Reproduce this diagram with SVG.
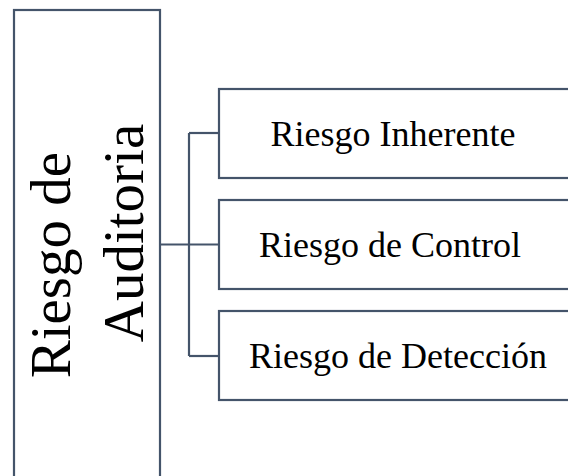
<svg xmlns="http://www.w3.org/2000/svg" width="568" height="476" viewBox="0 0 568 476">
  <style>
    .box { fill: #ffffff; stroke: #44546A; stroke-width: 2.2; }
    .conn { fill: none; stroke: #44546A; stroke-width: 2.2; }
    .lbl { font-family: "Liberation Serif", "Times New Roman", serif; fill: #000000; text-anchor: middle; }
  </style>
  <rect width="568" height="476" fill="#ffffff"/>
  <g id="connectors">
    <path class="conn" d="M160 244.5 H219"/>
    <path class="conn" d="M189 133 V356"/>
    <path class="conn" d="M189 133 H219"/>
    <path class="conn" d="M189 356 H219"/>
  </g>
  <g id="riesgo-auditoria">
    <rect class="box" x="14" y="10" width="146" height="480"/>
    <text class="lbl" font-size="57" transform="rotate(-90)">
      <tspan x="-258" y="70">Riesgo de</tspan>
      <tspan x="-233" y="143">Auditoria</tspan>
    </text>
  </g>
  <g id="riesgo-inherente">
    <rect class="box" x="219" y="89" width="360" height="89"/>
    <text class="lbl" x="393" y="146" font-size="36">Riesgo Inherente</text>
  </g>
  <g id="riesgo-control">
    <rect class="box" x="219" y="200" width="360" height="89"/>
    <text class="lbl" x="390" y="257" font-size="36">Riesgo de Control</text>
  </g>
  <g id="riesgo-deteccion">
    <rect class="box" x="219" y="311" width="360" height="89"/>
    <text class="lbl" x="398" y="368" font-size="36">Riesgo de Detección</text>
  </g>
</svg>
